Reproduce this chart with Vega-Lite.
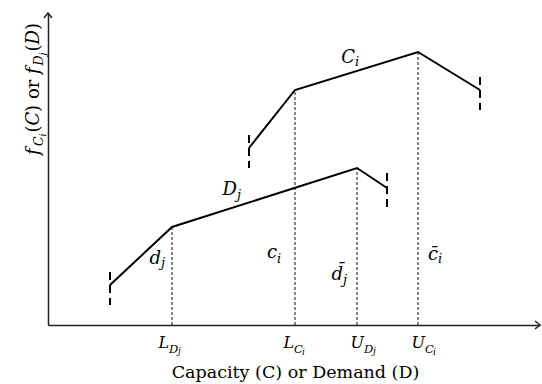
{
  "$schema": "https://vega.github.io/schema/vega-lite/v6.json",
  "width": 492,
  "height": 312,
  "autosize": {"type": "none"},
  "padding": {"left": 48, "top": 13, "right": 2, "bottom": 59},
  "background": "white",
  "config": {"view": {"stroke": null}, "text": {"font": "DejaVu Serif", "color": "black", "baseline": "alphabetic"}},
  "datasets": {
    "curves": [
      {"series": "D", "o": 1, "X": 62, "Y": 40},
      {"series": "D", "o": 2, "X": 124, "Y": 98},
      {"series": "D", "o": 3, "X": 309, "Y": 157},
      {"series": "D", "o": 4, "X": 339, "Y": 137},
      {"series": "C", "o": 1, "X": 201, "Y": 177},
      {"series": "C", "o": 2, "X": 247, "Y": 235},
      {"series": "C", "o": 3, "X": 370, "Y": 273},
      {"series": "C", "o": 4, "X": 432, "Y": 235}
    ],
    "guides": [
      {"X": 124, "Y": 0, "Y2": 98},
      {"X": 247, "Y": 0, "Y2": 235},
      {"X": 309, "Y": 0, "Y2": 157},
      {"X": 370, "Y": 0, "Y2": 273}
    ],
    "ends": [
      {"X": 62, "Y": 53, "Y2": 20},
      {"X": 339, "Y": 152, "Y2": 117},
      {"X": 201, "Y": 190, "Y2": 157},
      {"X": 432, "Y": 248, "Y2": 215}
    ],
    "arrows": [
      {"dir": "right", "X": 492, "Y": 0},
      {"dir": "up", "X": 0, "Y": 312}
    ],
    "labels": [
      {"t": "L", "lvl": "m", "rot": "h", "face": "it", "X": 121, "Y": -23},
      {"t": "D", "lvl": "s", "rot": "h", "face": "it", "X": 121, "Y": -28},
      {"t": "j", "lvl": "ss", "rot": "h", "face": "it", "X": 130, "Y": -29},
      {"t": "L", "lvl": "m", "rot": "h", "face": "it", "X": 246, "Y": -23},
      {"t": "C", "lvl": "s", "rot": "h", "face": "it", "X": 246, "Y": -28},
      {"t": "i", "lvl": "ss", "rot": "h", "face": "it", "X": 254, "Y": -30},
      {"t": "U", "lvl": "m", "rot": "h", "face": "it", "X": 316, "Y": -23},
      {"t": "D", "lvl": "s", "rot": "h", "face": "it", "X": 316, "Y": -28},
      {"t": "j", "lvl": "ss", "rot": "h", "face": "it", "X": 325, "Y": -29},
      {"t": "U", "lvl": "m", "rot": "h", "face": "it", "X": 377, "Y": -23},
      {"t": "C", "lvl": "s", "rot": "h", "face": "it", "X": 377, "Y": -28},
      {"t": "i", "lvl": "ss", "rot": "h", "face": "it", "X": 385, "Y": -30},
      {"t": "C", "lvl": "M", "rot": "h", "face": "it", "X": 307, "Y": 262},
      {"t": "i", "lvl": "S", "rot": "h", "face": "it", "X": 307, "Y": 259},
      {"t": "D", "lvl": "M", "rot": "h", "face": "it", "X": 189, "Y": 130},
      {"t": "j", "lvl": "S", "rot": "h", "face": "it", "X": 189, "Y": 126},
      {"t": "d", "lvl": "M", "rot": "h", "face": "it", "X": 113, "Y": 61},
      {"t": "j", "lvl": "S", "rot": "h", "face": "it", "X": 113, "Y": 58},
      {"t": "c", "lvl": "M", "rot": "h", "face": "it", "X": 229, "Y": 67},
      {"t": "i", "lvl": "S", "rot": "h", "face": "it", "X": 229, "Y": 62},
      {"t": "d̄", "lvl": "M", "rot": "h", "face": "it", "X": 295, "Y": 45},
      {"t": "j", "lvl": "S", "rot": "h", "face": "it", "X": 295, "Y": 41},
      {"t": "c̄", "lvl": "M", "rot": "h", "face": "it", "X": 390, "Y": 65},
      {"t": "i", "lvl": "S", "rot": "h", "face": "it", "X": 390, "Y": 62},
      {"t": "f", "lvl": "m", "rot": "v", "face": "it", "X": -9, "Y": 170},
      {"t": "C", "lvl": "s", "rot": "v", "face": "it", "X": -5, "Y": 179},
      {"t": "i", "lvl": "ss", "rot": "v", "face": "it", "X": -2.5, "Y": 188.5},
      {"t": "(", "lvl": "m", "rot": "v", "face": "rm", "X": -9, "Y": 192.5},
      {"t": "C", "lvl": "m", "rot": "v", "face": "it", "X": -9, "Y": 199.5},
      {"t": ")", "lvl": "m", "rot": "v", "face": "rm", "X": -9, "Y": 213},
      {"t": "or", "lvl": "m", "rot": "v", "face": "rm", "X": -9, "Y": 226},
      {"t": "f", "lvl": "m", "rot": "v", "face": "it", "X": -9, "Y": 251},
      {"t": "D", "lvl": "s", "rot": "v", "face": "it", "X": -5, "Y": 259.5},
      {"t": "j", "lvl": "ss", "rot": "v", "face": "it", "X": -2.5, "Y": 269.5},
      {"t": "(", "lvl": "m", "rot": "v", "face": "rm", "X": -9, "Y": 273.5},
      {"t": "D", "lvl": "m", "rot": "v", "face": "it", "X": -9, "Y": 280.5},
      {"t": ")", "lvl": "m", "rot": "v", "face": "rm", "X": -9, "Y": 295}
    ]
  },
  "layer": [
    {
      "data": {"name": "curves"},
      "mark": {"type": "line", "color": "black", "strokeWidth": 2},
      "encoding": {
        "x": {"field": "X", "type": "quantitative", "scale": {"domain": [0, 492], "zero": false, "nice": false},
              "axis": {"ticks": false, "labels": false, "grid": false, "domainColor": "#222", "domainWidth": 1.5,
                       "title": "Capacity (C) or Demand (D)", "titleFont": "DejaVu Serif", "titleFontSize": 17.5,
                       "titleFontWeight": "normal", "titleColor": "black", "titleBaseline": "alphabetic", "titleY": 52, "titleX": 247}},
        "y": {"field": "Y", "type": "quantitative", "scale": {"domain": [0, 312], "zero": false, "nice": false},
              "axis": {"ticks": false, "labels": false, "grid": false, "domainColor": "#222", "domainWidth": 1.5, "title": null}},
        "detail": {"field": "series"},
        "order": {"field": "o"}
      }
    },
    {
      "data": {"name": "guides"},
      "mark": {"type": "rule", "color": "#111", "strokeWidth": 1, "strokeDash": [3, 2]},
      "encoding": {"x": {"field": "X", "type": "quantitative"}, "y": {"field": "Y", "type": "quantitative"}, "y2": {"field": "Y2"}}
    },
    {
      "data": {"name": "ends"},
      "mark": {"type": "rule", "color": "black", "strokeWidth": 2, "strokeDash": [8, 5]},
      "encoding": {"x": {"field": "X", "type": "quantitative"}, "y": {"field": "Y", "type": "quantitative"}, "y2": {"field": "Y2"}}
    },
    {
      "data": {"name": "arrows"},
      "transform": [{"filter": "datum.dir == 'right'"}],
      "mark": {"type": "point", "shape": "M-2,-1.6L0,0L-2,1.6", "size": 25, "filled": false, "stroke": "#222", "strokeWidth": 1.5, "opacity": 1},
      "encoding": {"x": {"field": "X", "type": "quantitative"}, "y": {"field": "Y", "type": "quantitative"}}
    },
    {
      "data": {"name": "arrows"},
      "transform": [{"filter": "datum.dir == 'up'"}],
      "mark": {"type": "point", "shape": "M-1.6,2L0,0L1.6,2", "size": 25, "filled": false, "stroke": "#222", "strokeWidth": 1.5, "opacity": 1},
      "encoding": {"x": {"field": "X", "type": "quantitative"}, "y": {"field": "Y", "type": "quantitative"}}
    },
    {
      "data": {"name": "labels"},
      "transform": [{"filter": "datum.rot == 'h' && datum.lvl == 'm'"}],
      "mark": {"type": "text", "fontStyle": "italic", "fontSize": 16, "align": "right"},
      "encoding": {"x": {"field": "X", "type": "quantitative"}, "y": {"field": "Y", "type": "quantitative"}, "text": {"field": "t"}}
    },
    {
      "data": {"name": "labels"},
      "transform": [{"filter": "datum.rot == 'h' && datum.lvl == 's'"}],
      "mark": {"type": "text", "fontStyle": "italic", "fontSize": 11.5, "align": "left"},
      "encoding": {"x": {"field": "X", "type": "quantitative"}, "y": {"field": "Y", "type": "quantitative"}, "text": {"field": "t"}}
    },
    {
      "data": {"name": "labels"},
      "transform": [{"filter": "datum.rot == 'h' && datum.lvl == 'ss'"}],
      "mark": {"type": "text", "fontStyle": "italic", "fontSize": 9, "align": "left"},
      "encoding": {"x": {"field": "X", "type": "quantitative"}, "y": {"field": "Y", "type": "quantitative"}, "text": {"field": "t"}}
    },
    {
      "data": {"name": "labels"},
      "transform": [{"filter": "datum.rot == 'h' && datum.lvl == 'M'"}],
      "mark": {"type": "text", "fontStyle": "italic", "fontSize": 18, "align": "right"},
      "encoding": {"x": {"field": "X", "type": "quantitative"}, "y": {"field": "Y", "type": "quantitative"}, "text": {"field": "t"}}
    },
    {
      "data": {"name": "labels"},
      "transform": [{"filter": "datum.rot == 'h' && datum.lvl == 'S'"}],
      "mark": {"type": "text", "fontStyle": "italic", "fontSize": 13, "align": "left"},
      "encoding": {"x": {"field": "X", "type": "quantitative"}, "y": {"field": "Y", "type": "quantitative"}, "text": {"field": "t"}}
    },
    {
      "data": {"name": "labels"},
      "transform": [{"filter": "datum.rot == 'v' && datum.lvl == 'm' && datum.face == 'it'"}],
      "mark": {"type": "text", "fontStyle": "italic", "fontSize": 18, "angle": 270, "align": "left"},
      "encoding": {"x": {"field": "X", "type": "quantitative"}, "y": {"field": "Y", "type": "quantitative"}, "text": {"field": "t"}}
    },
    {
      "data": {"name": "labels"},
      "transform": [{"filter": "datum.rot == 'v' && datum.lvl == 'm' && datum.face == 'rm'"}],
      "mark": {"type": "text", "fontSize": 18, "angle": 270, "align": "left"},
      "encoding": {"x": {"field": "X", "type": "quantitative"}, "y": {"field": "Y", "type": "quantitative"}, "text": {"field": "t"}}
    },
    {
      "data": {"name": "labels"},
      "transform": [{"filter": "datum.rot == 'v' && datum.lvl == 's'"}],
      "mark": {"type": "text", "fontStyle": "italic", "fontSize": 12.5, "angle": 270, "align": "left"},
      "encoding": {"x": {"field": "X", "type": "quantitative"}, "y": {"field": "Y", "type": "quantitative"}, "text": {"field": "t"}}
    },
    {
      "data": {"name": "labels"},
      "transform": [{"filter": "datum.rot == 'v' && datum.lvl == 'ss'"}],
      "mark": {"type": "text", "fontStyle": "italic", "fontSize": 9.5, "angle": 270, "align": "left"},
      "encoding": {"x": {"field": "X", "type": "quantitative"}, "y": {"field": "Y", "type": "quantitative"}, "text": {"field": "t"}}
    }
  ]
}
